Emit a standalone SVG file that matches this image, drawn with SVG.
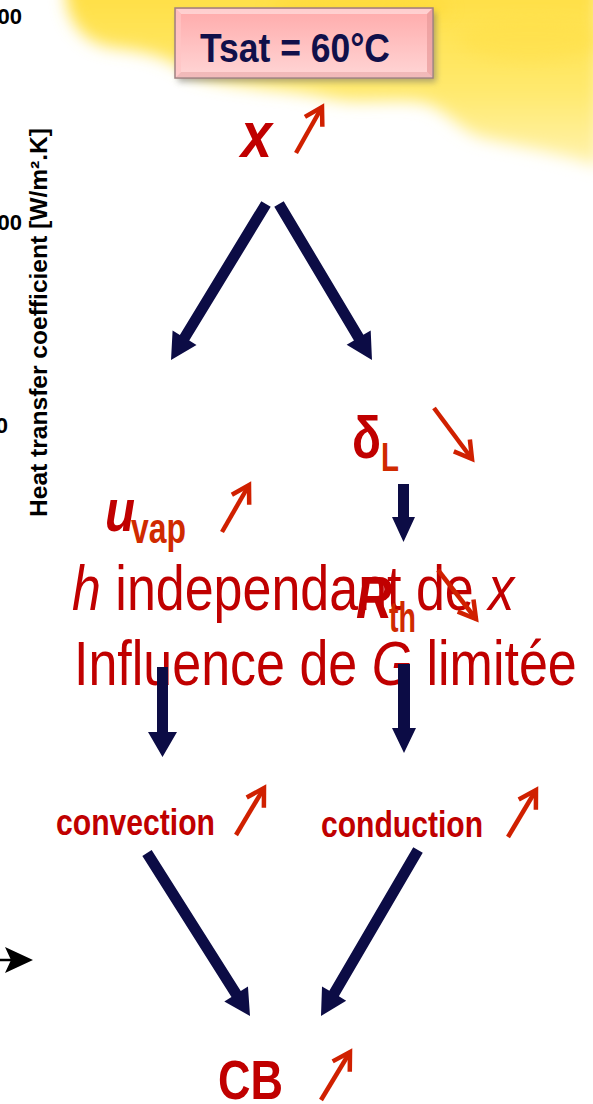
<svg xmlns="http://www.w3.org/2000/svg" width="593" height="1104" viewBox="0 0 593 1104">
  <style>
    .ax { font-family: "Liberation Sans", Arial, sans-serif; font-weight: bold; fill: #000; }
    .lbl { font-family: "Liberation Sans", Arial, sans-serif; font-weight: bold; fill: #c00000; }
    .sub { font-family: "Liberation Sans", Arial, sans-serif; font-weight: bold; fill: #d02a00; }
    .big { font-family: "Liberation Sans", Arial, sans-serif; fill: #c00000; }
    .nav { fill: #0c0c45; }
    .rar { fill: none; stroke: #d02000; stroke-width: 4.5; marker-end: url(#rh); }
  </style>
  <defs>
    <filter id="blur" x="-20%" y="-50%" width="140%" height="200%">
      <feGaussianBlur stdDeviation="8"/>
    </filter>
    <filter id="sh" x="-10%" y="-20%" width="120%" height="160%">
      <feGaussianBlur stdDeviation="3"/>
    </filter>
    <linearGradient id="yel" x1="0" y1="0" x2="0" y2="1">
      <stop offset="0" stop-color="#ffde40"/>
      <stop offset="0.6" stop-color="#ffe96e"/>
      <stop offset="1" stop-color="#fff3b0"/>
    </linearGradient>
    <linearGradient id="pink" x1="0" y1="0" x2="0" y2="1">
      <stop offset="0" stop-color="#ffaaaa"/>
      <stop offset="1" stop-color="#ffd6d6"/>
    </linearGradient>
    <marker id="rh" markerUnits="userSpaceOnUse" markerWidth="40" markerHeight="40" viewBox="-20 -20 40 40" refX="0" refY="0" orient="auto" overflow="visible">
      <path d="M-17,-10 L0,0 L-17,10" fill="none" stroke="#d02000" stroke-width="4.5"/>
    </marker>
  </defs>

  <rect width="593" height="1104" fill="#ffffff"/>

  <!-- yellow glow background -->
  <g id="background">
    <path d="M66,-20 L66,0 C70,25 85,44 115,48 C150,52 170,58 190,74 C230,88 290,88 330,98 C360,105 390,98 420,102 C445,107 455,127 480,137 C520,147 560,152 600,167 L600,-20 Z" fill="url(#yel)" filter="url(#blur)"/>
    <ellipse cx="360" cy="8" rx="90" ry="16" fill="#ffd830" opacity="0.5" filter="url(#blur)"/>
    <ellipse cx="530" cy="40" rx="70" ry="22" fill="#ffdf45" opacity="0.45" filter="url(#blur)"/>
  </g>

  <!-- axis fragments at left -->
  <g id="axis">
    <text class="ax" x="22" y="24" font-size="22" text-anchor="end">00</text>
    <text class="ax" x="22" y="230" font-size="22" text-anchor="end">00</text>
    <text class="ax" x="8" y="433" font-size="22" text-anchor="end">0</text>
    <text class="ax" font-size="23" transform="translate(47,517) rotate(-90)" textLength="389" lengthAdjust="spacingAndGlyphs">Heat transfer coefficient [W/m².K]</text>
    <line x1="0" y1="960" x2="12" y2="960" stroke="#000" stroke-width="2.5"/>
    <polygon points="33,960 5,947 11,960 5,973" fill="#000"/>
  </g>

  <!-- Tsat box -->
  <g id="tsat">
    <rect x="178" y="12" width="258" height="70" fill="#707070" opacity="0.55" filter="url(#sh)"/>
    <rect x="175" y="8" width="258" height="70" fill="url(#pink)" stroke="#a08080" stroke-width="1.5"/>
    <polygon points="176,9 432,9 427,14 181,14" fill="#ffd8d8" opacity="0.8"/>
    <polygon points="432,9 432,77 427,72 427,14" fill="#e89a9a" opacity="0.7"/>
    <polygon points="176,77 432,77 427,72 181,72" fill="#e8a8a8" opacity="0.6"/>
    <polygon points="176,9 181,14 181,72 176,77" fill="#ffc4c4" opacity="0.7"/>
    <text x="200" y="62" font-family="'Liberation Sans', Arial, sans-serif" font-weight="bold" font-size="40" fill="#10104a" textLength="190" lengthAdjust="spacingAndGlyphs">Tsat = 60°C</text>
  </g>

  <!-- overlay statement -->
  <g id="statement">
    <text class="big" font-size="63" transform="translate(72,610) scale(0.825,1)"><tspan font-style="italic">h</tspan> independant de <tspan font-style="italic">x</tspan></text>
    <text class="big" font-size="63" transform="translate(74,685) scale(0.825,1)">Influence de <tspan font-style="italic">G</tspan> limitée</text>
  </g>

  <!-- nodes -->
  <g id="node-x">
    <text class="lbl" font-style="italic" x="241" y="157" font-size="64" textLength="31" lengthAdjust="spacingAndGlyphs">x</text>
  </g>
  <g id="node-deltaL">
    <text class="lbl" x="352" y="458" font-size="60" textLength="29" lengthAdjust="spacingAndGlyphs">δ</text>
    <text class="sub" x="381" y="471" font-size="40" textLength="18" lengthAdjust="spacingAndGlyphs">L</text>
  </g>
  <g id="node-uvap">
    <text class="lbl" font-style="italic" x="105" y="531" font-size="60" textLength="30" lengthAdjust="spacingAndGlyphs">u</text>
    <text class="sub" x="131" y="543" font-size="42" textLength="55" lengthAdjust="spacingAndGlyphs">vap</text>
  </g>
  <g id="node-Rth">
    <text class="lbl" font-style="italic" x="356" y="618" font-size="60" textLength="36" lengthAdjust="spacingAndGlyphs">R</text>
    <text class="sub" x="389" y="632" font-size="42" textLength="27" lengthAdjust="spacingAndGlyphs">th</text>
  </g>
  <g id="node-convection">
    <text class="lbl" x="56" y="835" font-size="37" textLength="159" lengthAdjust="spacingAndGlyphs">convection</text>
  </g>
  <g id="node-conduction">
    <text class="lbl" x="321" y="837" font-size="37" textLength="162" lengthAdjust="spacingAndGlyphs">conduction</text>
  </g>
  <g id="node-CB">
    <text class="lbl" x="218" y="1099" font-size="55" textLength="65" lengthAdjust="spacingAndGlyphs">CB</text>
  </g>

  <!-- connectors -->
  <g id="connectors">
    <path class="nav" transform="translate(266,204) rotate(121.34)" d="M0,-5.5 H156.6 V-14 L182.6,0 L156.6,14 V5.5 H0 Z"/>
    <path class="nav" transform="translate(279,204) rotate(59.2)" d="M0,-5.5 H155.6 V-14 L181.6,0 L155.6,14 V5.5 H0 Z"/>
    <polygon class="nav" points="398,484 409,484 409,517 415,517 403.5,542 392,517 398,517"/>
    <polygon class="nav" points="157,667 168,667 168,732 177,732 162.5,757 148,732 157,732"/>
    <polygon class="nav" points="398,664 410,664 410,728 416,728 404,753 392,728 398,728"/>
    <path class="nav" transform="translate(147,853) rotate(57.7)" d="M0,-5.5 H166.8 V-14 L192.8,0 L166.8,14 V5.5 H0 Z"/>
    <path class="nav" transform="translate(418,850) rotate(120.3)" d="M0,-5.5 H166.3 V-14 L192.3,0 L166.3,14 V5.5 H0 Z"/>

    <line class="rar" x1="296" y1="153" x2="322" y2="107"/>
    <line class="rar" x1="434" y1="408" x2="472" y2="459"/>
    <line class="rar" x1="222" y1="532" x2="249" y2="485"/>
    <line class="rar" x1="438" y1="570" x2="476" y2="619"/>
    <line class="rar" x1="236" y1="835" x2="264" y2="788"/>
    <line class="rar" x1="508" y1="837" x2="536" y2="790"/>
    <line class="rar" x1="321" y1="1100" x2="350" y2="1052"/>
  </g>
</svg>
